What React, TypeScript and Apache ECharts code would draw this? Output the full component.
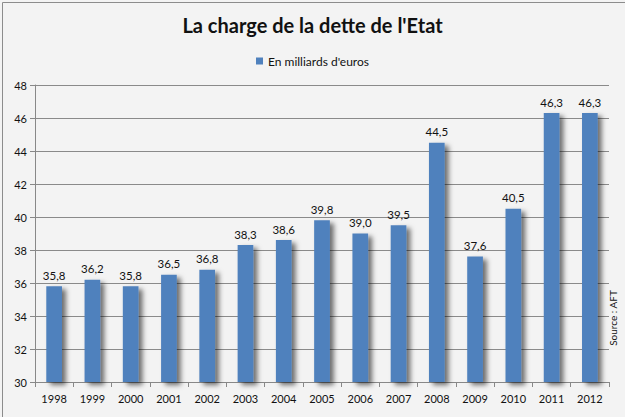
import React, { useEffect, useRef } from "react";
import * as echarts from "echarts";

const categories = ["1998", "1999", "2000", "2001", "2002", "2003", "2004", "2005", "2006", "2007", "2008", "2009", "2010", "2011", "2012"];
const values = [35.8, 36.2, 35.8, 36.5, 36.8, 38.3, 38.6, 39.8, 39.0, 39.5, 44.5, 37.6, 40.5, 46.3, 46.3];
const seriesName = "En milliards d'euros";
const titleText = "La charge de la dette de l'Etat";
const sourceText = "Source : AFT";

const FONT = "Lato, 'Open Sans', sans-serif";

export default function App() {
  const ref = useRef<HTMLDivElement>(null);
  useEffect(() => {
    if (!ref.current) return;
    const chart = echarts.init(ref.current, undefined, { renderer: "svg" });
    chart.setOption({
      animation: false,
      backgroundColor: "#f3f3f3",
      title: {
        text: titleText,
        left: "center",
        top: 10,
        textStyle: { fontFamily: FONT, fontSize: 20, fontWeight: "bold", color: "#111" },
      },
      legend: {
        top: 50,
        left: "center",
        icon: "rect",
        itemWidth: 7,
        itemHeight: 7,
        itemGap: 4,
        textStyle: { fontFamily: FONT, fontSize: 12, color: "#111" },
        data: [seriesName],
      },
      grid: { left: 35, right: 16, top: 85, bottom: 35 },
      xAxis: {
        type: "category",
        data: categories,
        axisLine: { lineStyle: { color: "#888" } },
        axisTick: { show: true, length: 5, lineStyle: { color: "#888" } },
        axisLabel: { fontFamily: FONT, fontSize: 11, color: "#111", margin: 11 },
      },
      yAxis: {
        type: "value",
        min: 30,
        max: 48,
        interval: 2,
        axisLine: { show: true, lineStyle: { color: "#888" } },
        axisTick: { show: true, length: 5, lineStyle: { color: "#888" } },
        axisLabel: { fontFamily: FONT, fontSize: 11, color: "#111", margin: 8 },
        splitLine: { lineStyle: { color: "#8a8a8a" } },
      },
      series: [
        {
          name: seriesName,
          type: "bar",
          data: values,
          barWidth: "41%",
          itemStyle: {
            color: "#4f81bd",
            shadowColor: "rgba(0,0,0,0.55)",
            shadowBlur: 5,
            shadowOffsetX: 4,
            shadowOffsetY: 3,
          },
          label: {
            show: true,
            position: "top",
            distance: 5,
            fontFamily: FONT,
            fontSize: 11.5,
            color: "#111",
            formatter: (p: any) => Number(p.value).toFixed(1).replace(".", ","),
          },
        },
      ],
      graphic: [
        {
          type: "rect",
          left: 0,
          top: 0,
          shape: { x: 0.5, y: 0.5, width: 624, height: 416 },
          style: { fill: "none", stroke: "#8c8c8c", lineWidth: 1 },
          silent: true,
        },
        {
          type: "text",
          x: 613,
          y: 318,
          rotation: Math.PI / 2,
          style: {
            text: sourceText,
            fontFamily: FONT,
            fontSize: 10,
            fill: "#111",
            align: "center",
            verticalAlign: "middle",
          },
        },
      ],
    });
    return () => chart.dispose();
  }, []);
  return <div ref={ref} style={{ position: "absolute", left: 0, top: 0, width: 625, height: 417 }} />;
}
